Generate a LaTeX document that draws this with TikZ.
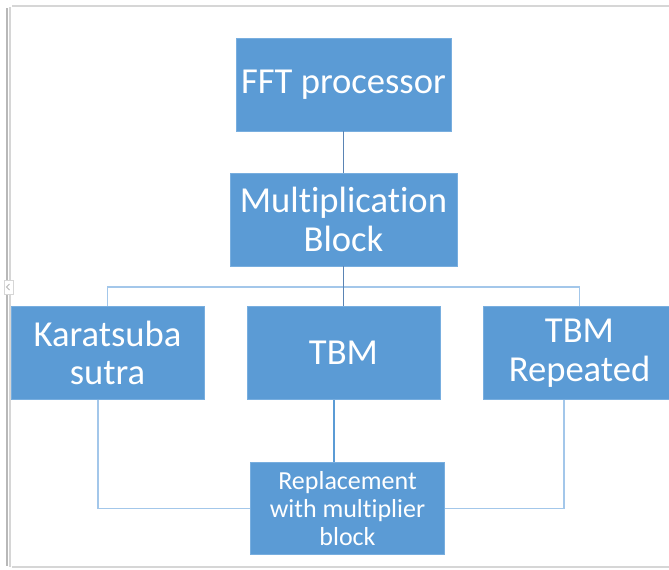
\documentclass[tikz,border=0pt]{standalone}
\usepackage{fontspec}
\setmainfont[Ligatures=NoCommon]{Carlito}
\definecolor{boxblue}{HTML}{5B9BD5}
\definecolor{boxedge}{HTML}{78AEDF}
\definecolor{trunkblue}{HTML}{5A84B4}
\definecolor{lightblue}{HTML}{A3C7EA}
\definecolor{framegrey}{HTML}{D6D6D6}
\definecolor{framedark}{HTML}{B8B8B8}
\tikzset{
  block/.style={draw=boxedge, line width=0.4pt, fill=boxblue, text=white, align=center,
    minimum width=96.5pt, minimum height=46.5pt, inner sep=0pt,
    font=\fontsize{18.3}{19.3}\selectfont},
  smallblock/.style={block, minimum width=97pt, minimum height=46pt,
    font=\fontsize{13}{14}\selectfont},
  trunk/.style={draw=trunkblue, line width=0.5pt},
  branch/.style={draw=lightblue, line width=0.8pt},
  feed/.style={draw=lightblue, line width=0.8pt},
  frame/.style={draw=framegrey, line width=0.6pt}
}
\begin{document}
\begin{tikzpicture}[x=0.5pt,y=-0.5pt]
    \useasboundingbox (0,0) rectangle (669,569);
    \clip (0,0) rectangle (669,569);
    % page frame
    \draw [frame] (12,6) -- (669,6);
    \draw [frame] (12,567) -- (669,567);
    \draw [frame] (10,7) -- (10,567);
    \draw [draw=framedark, line width=0.6pt] (7,8) -- (7,566);
    \draw [draw=framegrey, fill=white, line width=0.4pt] (4,280) rectangle (13,294);
    \draw [draw=framedark, line width=0.5pt] (9.5,284) -- (6.5,287) -- (9.5,290);
    % blocks
    \node [block, minimum width=107.5pt] (fft) at (343.5,84.5) {FFT processor};
    \node [block, minimum width=113.5pt] (mult) at (343.5,219.5) {Multiplication\\Block};
    \node [block] (kara) at (107.5,353) {Karatsuba\\sutra};
    \node [block] (tbm) at (343.5,353) {TBM};
    \node [block] (tbmr) at (579.5,353) {TBM\\Repeated};
    \node [smallblock] (repl) at (347.5,508.5) {Replacement\\with multiplier\\block};
    \coordinate (bus) at (343.5,287);
    % links
    \draw [trunk] (fft) -- (mult);
    \draw [branch] (kara.north) |- (bus) -| (tbmr.north);
    \draw [trunk] (mult) -- (tbm);
    \draw [feed] ([xshift=-4.75pt]kara.south) |- (repl.west);
    \draw [feed, draw=boxblue, line width=0.6pt] ([xshift=-4.75pt]tbm.south) -- ([xshift=-4.75pt]tbm.south |- repl.north);
    \draw [feed] ([xshift=-7.75pt]tbmr.south) |- (repl.east);
\end{tikzpicture}
\end{document}
